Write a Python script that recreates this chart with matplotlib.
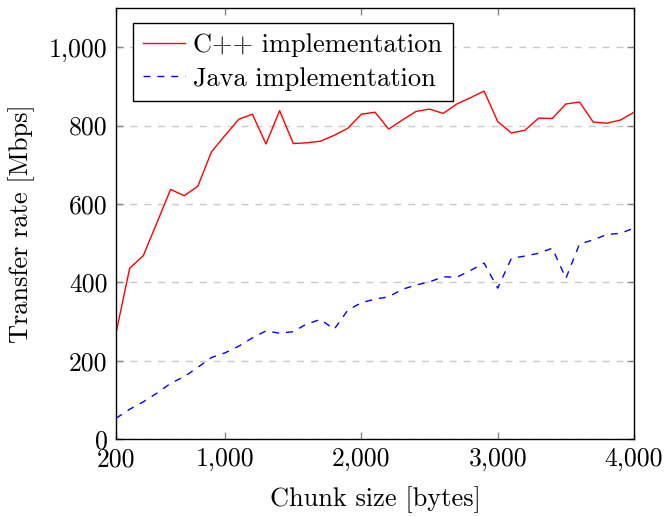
"""
Transfer rate vs chunk size (C++ vs Java).
"""

import matplotlib
matplotlib.use("Agg")
import matplotlib.pyplot as plt
from matplotlib.ticker import FuncFormatter

chunk_size = [200, 300, 400, 500, 600, 700, 800, 900, 1000, 1100, 1200, 1300, 1400,
              1500, 1600, 1700, 1800, 1900, 2000, 2100, 2200, 2300, 2400, 2500, 2600,
              2700, 2800, 2900, 3000, 3100, 3200, 3300, 3400, 3500, 3600, 3700, 3800,
              3900, 4000]
cpp_rate = [271, 436, 468, 552, 637, 621, 645, 733, 775, 816, 829, 753, 838,
            754, 756, 760, 775, 793, 829, 834, 791, 814, 836, 842, 831,
            855, 871, 888, 810, 781, 788, 819, 818, 855, 860, 809, 806,
            814, 834]
java_rate = [53, 76, 95, 117, 142, 159, 183, 208, 220, 237, 258, 276, 270,
             274, 294, 305, 280, 329, 348, 357, 363, 382, 393, 401, 414,
             413, 430, 449, 385, 461, 467, 474, 487, 410, 498, 508, 522,
             525, 538]

x_ticks = [200, 1000, 2000, 3000, 4000]
y_ticks = [0, 200, 400, 600, 800, 1000]

plt.rcParams["font.family"] = ["cmr10", "DejaVu Serif"]
plt.rcParams["axes.formatter.use_mathtext"] = True

fig = plt.figure(figsize=(6.67, 5.16), dpi=100)
ax = fig.add_axes([0.174, 0.1492, 0.7766, 0.8353])

ax.plot(chunk_size, cpp_rate, color="red", lw=1.0, label="C++ implementation")
ax.plot(chunk_size, java_rate, color="blue", lw=1.0, dashes=(5, 5), label="Java implementation")

ax.set_xlim(200, 4000)
ax.set_ylim(0, 1100)
ax.set_xticks(x_ticks)
ax.set_yticks(y_ticks)
fmt = FuncFormatter(lambda v, p: f"{int(v):,}")
ax.xaxis.set_major_formatter(fmt)
ax.yaxis.set_major_formatter(fmt)

ax.grid(axis="y", color="#c8c8c8", lw=1.0, dashes=(5, 5))
ax.set_axisbelow(True)
ax.tick_params(direction="in", length=5, width=1, color="#888888",
               labelsize=18.5, top=True, right=True, pad=6)
for s in ax.spines.values():
    s.set_linewidth(1.0)

ax.set_xlabel("Chunk size [bytes]", fontsize=19, labelpad=11)
ax.set_ylabel("Transfer rate [Mbps]", fontsize=19, labelpad=10)

leg = ax.legend(loc="upper left", bbox_to_anchor=(0.032, 0.966), borderaxespad=0,
                fontsize=19, fancybox=False, edgecolor="black", framealpha=1,
                handlelength=1.6, handletextpad=0.3, labelspacing=0.38,
                borderpad=0.4)
leg.get_frame().set_linewidth(1.0)

plt.savefig("out.png", dpi=100)
